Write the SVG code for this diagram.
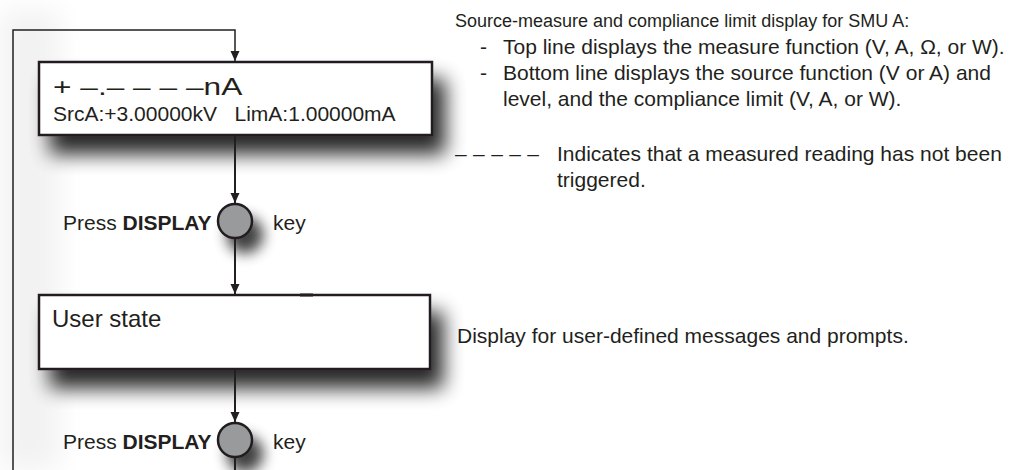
<svg xmlns="http://www.w3.org/2000/svg" width="1017" height="470" viewBox="0 0 1017 470">
<style>
  .t { font-family: "Liberation Sans", Arial, sans-serif; fill: #231f20; }
  .n { font-size: 21px; }
  .box { fill: #ffffff; stroke: #231f20; stroke-width: 2.5; }
  .key { fill: #999a9c; stroke: #231f20; stroke-width: 2.5; }
  .conn { fill: none; stroke: #231f20; stroke-width: 2; }
  .loop { fill: none; stroke: #231f20; stroke-width: 1.5; }
</style>
<defs>
  <filter id="shadow" x="-20%" y="-50%" width="150%" height="220%">
    <feGaussianBlur in="SourceAlpha" stdDeviation="10"/>
    <feOffset dx="12" dy="18" result="b"/>
    <feComponentTransfer><feFuncA type="linear" slope="0.85"/></feComponentTransfer>
    <feMerge><feMergeNode/><feMergeNode in="SourceGraphic"/></feMerge>
  </filter>
  <filter id="cshadow" x="-100%" y="-100%" width="300%" height="300%">
    <feGaussianBlur in="SourceAlpha" stdDeviation="7"/>
    <feOffset dx="10" dy="14" result="b"/>
    <feComponentTransfer><feFuncA type="linear" slope="0.75"/></feComponentTransfer>
    <feMerge><feMergeNode/><feMergeNode in="SourceGraphic"/></feMerge>
  </filter>
  <filter id="soft" x="-50%" y="-50%" width="200%" height="200%">
    <feGaussianBlur stdDeviation="14"/>
  </filter>
  <marker id="arrow" markerUnits="userSpaceOnUse" markerWidth="10" markerHeight="10" refX="10" refY="4.5" orient="auto">
    <path d="M0,0 L10,4.5 L0,9 z" fill="#231f20"/>
  </marker>
</defs>
<rect width="1017" height="470" fill="#ffffff"/>
<rect x="0" y="10" width="60" height="460" fill="#000000" opacity="0.05" filter="url(#soft)"/>

<g id="node-measure-display">
  <rect class="box" x="39" y="62" width="393" height="73" filter="url(#shadow)"/>
  <text class="t" font-size="24" transform="translate(53,95) scale(1.32,1)">+ –.– – – –nA</text>
  <text class="t" x="53" y="121" font-size="21" xml:space="preserve">SrcA:+3.00000kV   LimA:1.00000mA</text>
</g>

<g id="node-press-1">
  <circle class="key" cx="235" cy="221" r="17" filter="url(#cshadow)"/>
  <text class="t n" x="63" y="230">Press <tspan font-weight="bold">DISPLAY</tspan></text>
  <text class="t n" x="273" y="230">key</text>
</g>

<g id="node-user-state">
  <rect class="box" x="39" y="295" width="391" height="74" filter="url(#shadow)"/>
  <rect x="300" y="293.5" width="13" height="3" fill="#231f20"/>
  <text class="t" x="52" y="327" font-size="24">User state</text>
</g>

<g id="node-press-2">
  <circle class="key" cx="235" cy="440" r="17" filter="url(#cshadow)"/>
  <text class="t n" x="63" y="449">Press <tspan font-weight="bold">DISPLAY</tspan></text>
  <text class="t n" x="273" y="449">key</text>
</g>

<g id="connectors">
  <path class="loop" d="M13,470 V30 H235 V61" marker-end="url(#arrow)"/>
  <path class="conn" d="M235,136 V203" marker-end="url(#arrow)"/>
  <path class="conn" d="M235,239 V294" marker-end="url(#arrow)"/>
  <path class="conn" d="M235,370 V422" marker-end="url(#arrow)"/>
  <path class="conn" d="M235,458 V470"/>
</g>

<g id="notes">
  <text class="t" x="455" y="27" font-size="18">Source-measure and compliance limit display for SMU A:</text>
  <text class="t n" x="480" y="54">-</text>
  <text class="t n" x="503" y="54">Top line displays the measure function (V, A, Ω, or W).</text>
  <text class="t n" x="480" y="80">-</text>
  <text class="t n" x="503" y="80">Bottom line displays the source function (V or A) and</text>
  <text class="t n" x="503" y="106">level, and the compliance limit (V, A, or W).</text>
  <text class="t n" x="455" y="161" textLength="84" lengthAdjust="spacing">– – – – –</text>
  <text class="t n" x="557" y="161">Indicates that a measured reading has not been</text>
  <text class="t n" x="557" y="187">triggered.</text>
  <text class="t n" x="457" y="343">Display for user-defined messages and prompts.</text>
</g>
</svg>
